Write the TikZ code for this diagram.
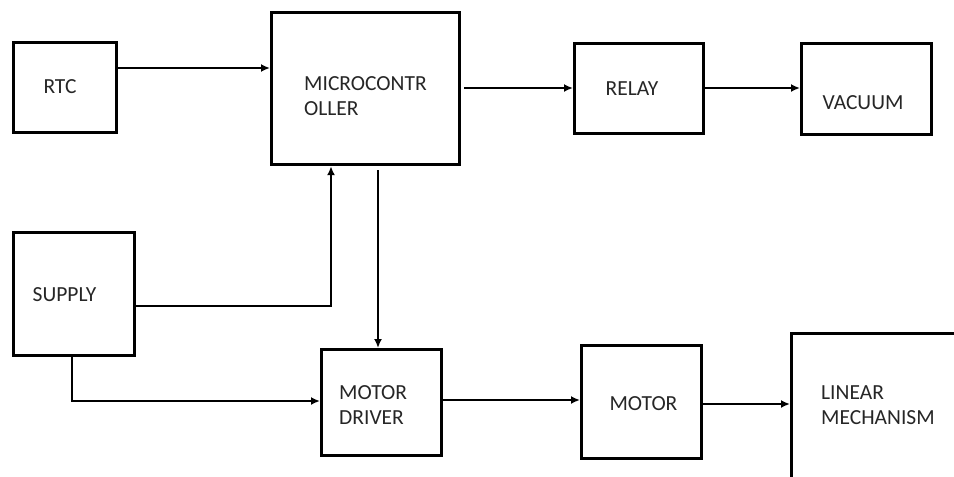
\documentclass[tikz,border=0pt]{standalone}
\usepackage{fontspec}
\setmainfont{Carlito}
\usetikzlibrary{arrows.meta,calc}
\begin{document}
\begin{tikzpicture}[x=1pt,y=-1pt,
  blk/.style={draw=black,line width=3.2pt,inner sep=0pt,anchor=north west},
  lbl/.style={inner sep=0pt,text=black!85,font=\fontsize{21.5}{25}\selectfont,align=left},
  arr/.style={line width=2.8pt,-{Latex[length=9pt,width=8pt]}},
  ln/.style={line width=2.8pt}]
\useasboundingbox (0,0) rectangle (954,477);
\clip (0,0) rectangle (954,477);
% boxes
\node[blk,minimum width=103pt,minimum height=90pt] (rtc) at (12,41) {};
\node[blk,minimum width=188pt,minimum height=152pt] (mc) at (270,11) {};
\node[blk,minimum width=129pt,minimum height=90pt] (relay) at (573,42) {};
\node[blk,minimum width=130pt,minimum height=91pt] (vac) at (800,42) {};
\node[blk,minimum width=121pt,minimum height=123pt] (sup) at (12,231) {};
\node[blk,minimum width=120pt,minimum height=106pt] (md) at (320,348) {};
\node[blk,minimum width=120pt,minimum height=113pt] (mot) at (580,344) {};
\node[blk,minimum width=220pt,minimum height=200pt] (lin) at (790,332) {};
% labels
\node[lbl] (trtc) at (60,87) {RTC};
\node[lbl,anchor=west] (tmc) at (304,96) {MICROCONTR\\OLLER};
\node[lbl] (trelay) at (632,89) {RELAY};
\node[lbl] (tvac) at (863,103) {VACUUM};
\node[lbl] (tsup) at (64.5,295) {SUPPLY};
\node[lbl,anchor=west] (tmd) at (339,405) {MOTOR\\DRIVER};
\node[lbl] (tmot) at (643.5,404) {MOTOR};
\node[lbl,anchor=west] (tlin) at (821,405) {LINEAR\\MECHANISM};
% connectors
\draw[arr] (rtc.east |- 0,68) -- (mc.west |- 0,68);
\draw[arr] ([xshift=3pt]mc.east |- 0,88) -- (relay.west |- 0,88);
\draw[arr] (relay.east |- 0,88) -- (vac.west |- 0,88);
\draw[arr] (sup.east |- 0,306) -| (mc.south -| 331,0);
\draw[arr] ([yshift=-4pt]mc.south -| 378,0) -- (md.north -| 378,0);
\draw[arr] (sup.south -| 72,0) |- (md.west |- 0,401);
\draw[arr] (md.east |- 0,400) -- (mot.west |- 0,400);
\draw[arr] (mot.east |- 0,404) -- (lin.west |- 0,404);
\end{tikzpicture}
\end{document}
